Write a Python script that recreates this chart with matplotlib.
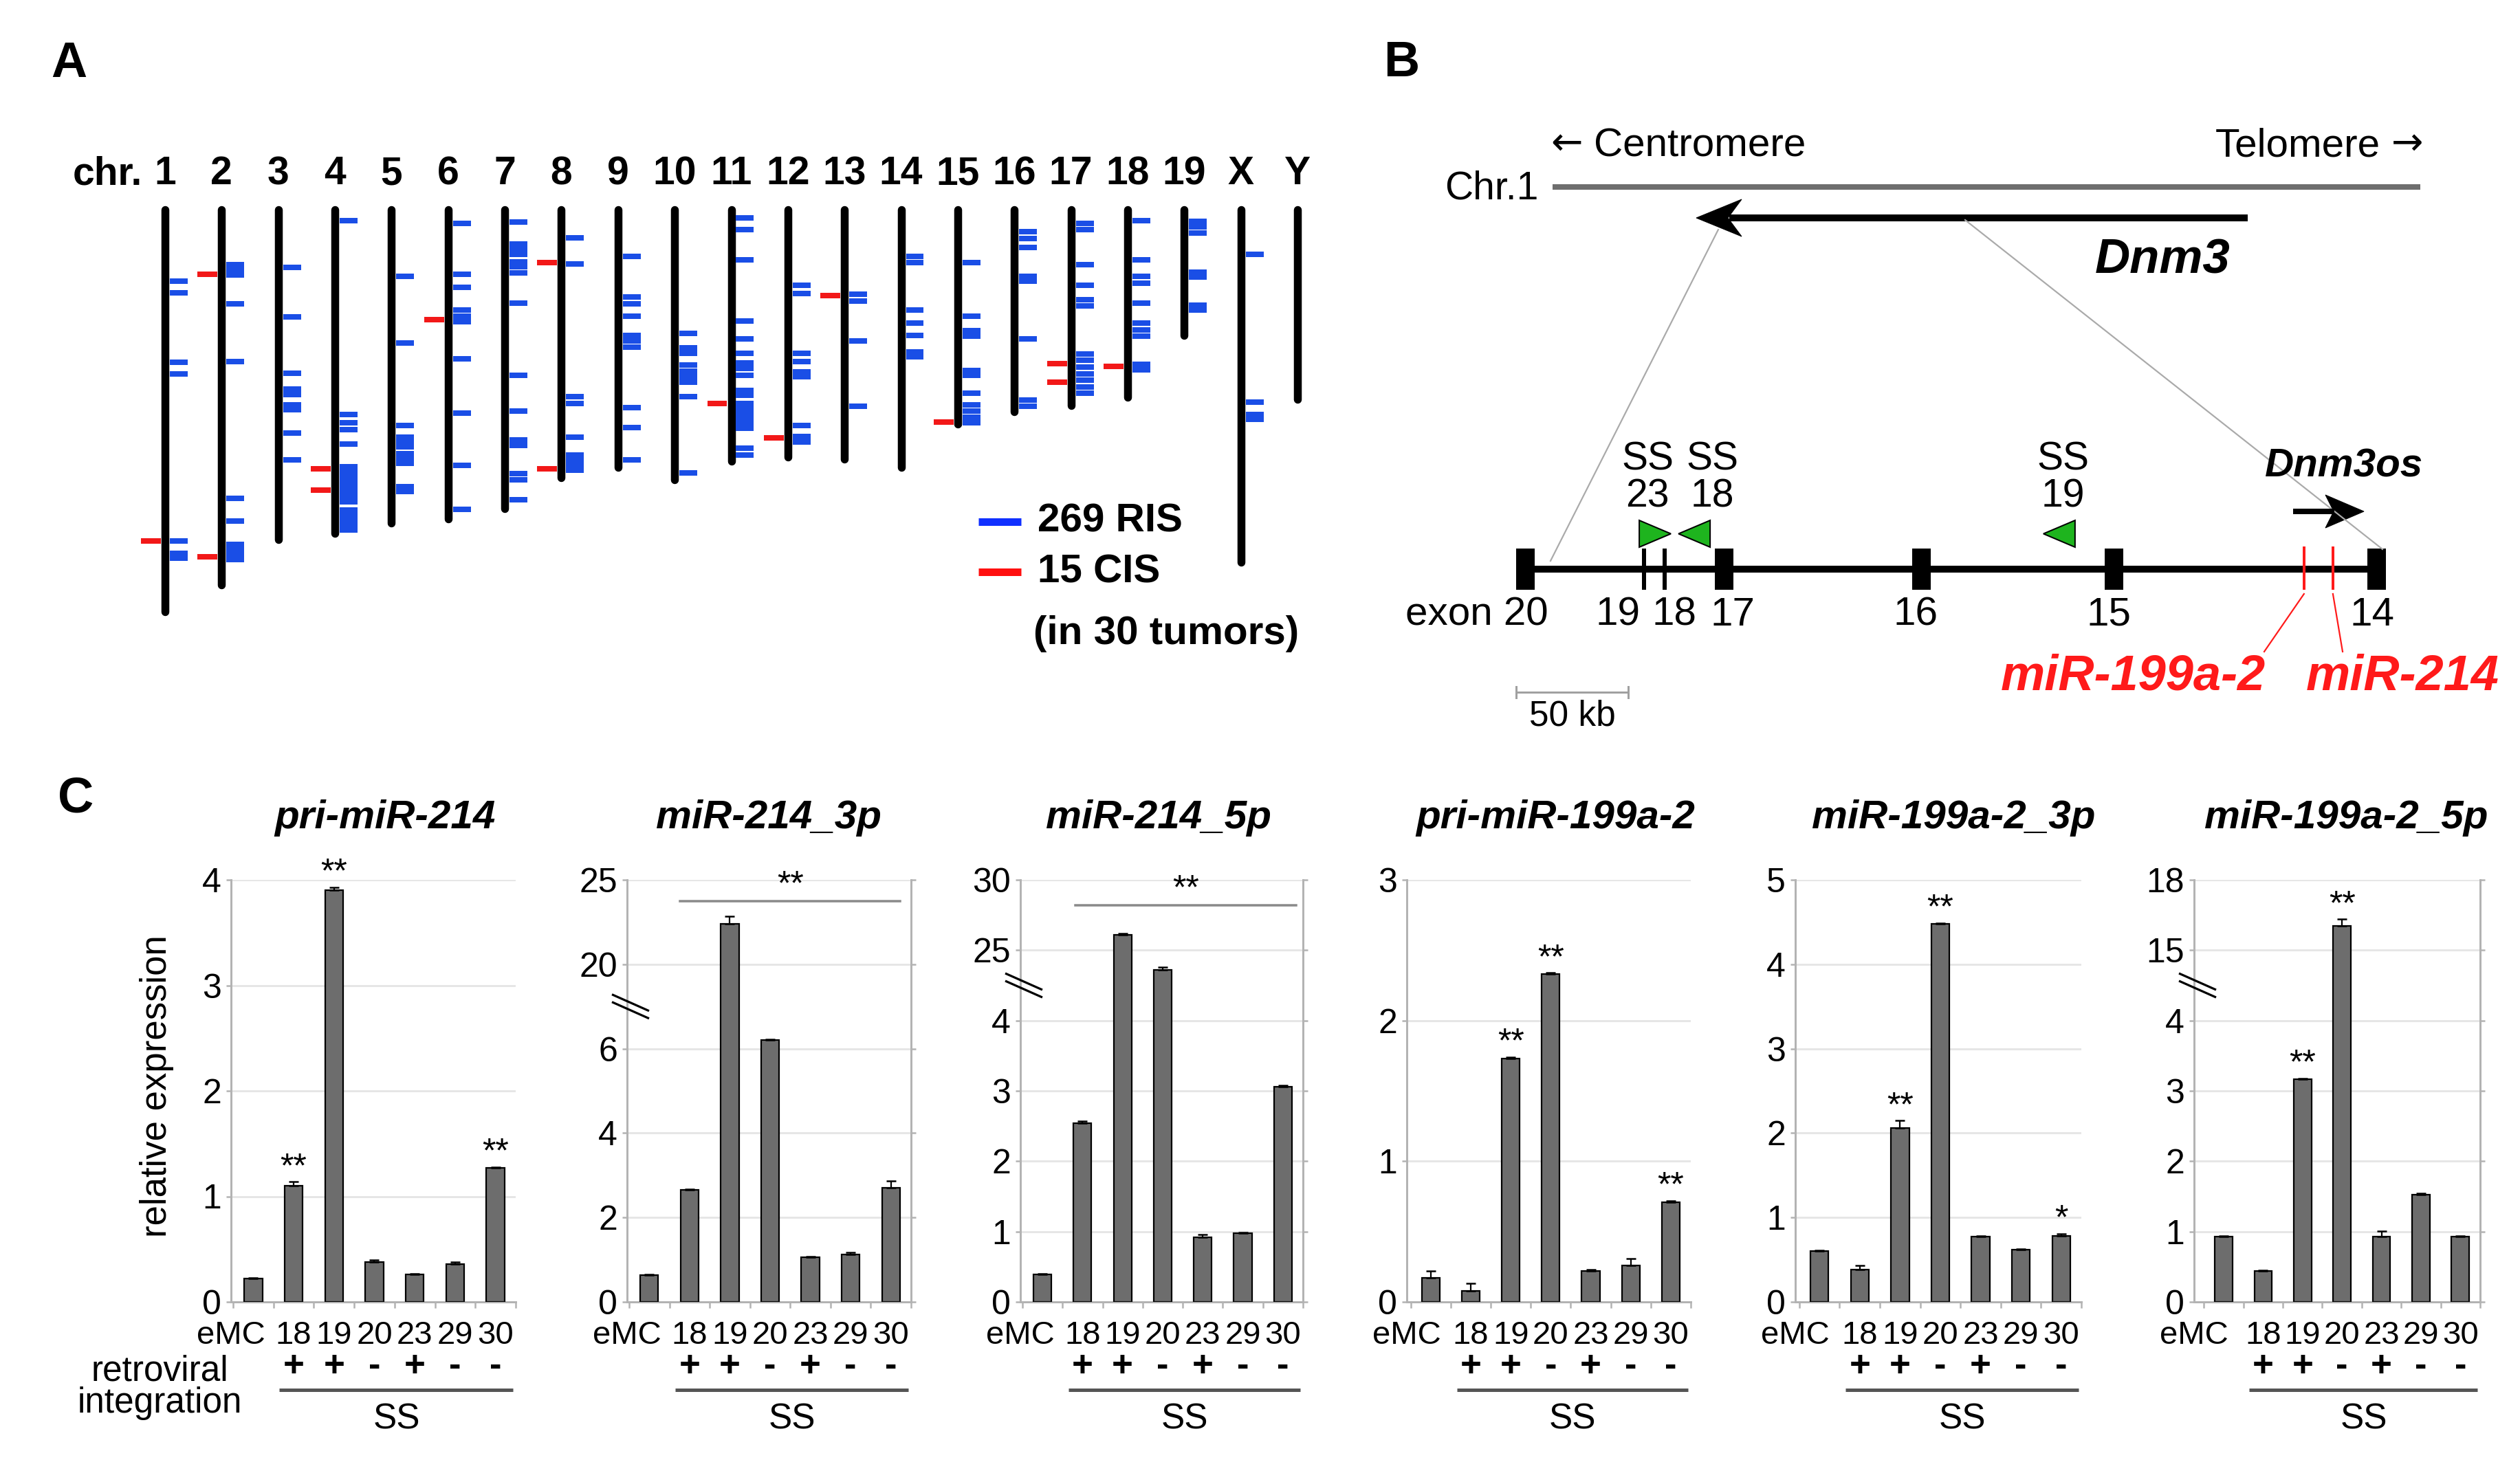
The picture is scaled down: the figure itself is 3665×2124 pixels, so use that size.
import numpy as np
import matplotlib
matplotlib.use('Agg')
import matplotlib.pyplot as plt
import matplotlib.transforms as mtransforms
from matplotlib.patches import Rectangle, Polygon

plt.rcParams['font.family'] = ['Liberation Sans', 'DejaVu Sans']

W, H = 3665, 2124
DPI = 100


def pt(px):
    return px * 72.0 / DPI


# ---------------- Panel A data (Mb from top of chromosome) ----------------
chrom_names = ['1', '2', '3', '4', '5', '6', '7', '8', '9', '10', '11', '12', '13',
               '14', '15', '16', '17', '18', '19', 'X', 'Y']
chrom_len_mb = [195, 182, 160, 157, 152, 150, 145, 130, 125, 131, 122, 120, 121,
                125, 104, 98, 95, 91, 61, 171, 92]
ris_mb = [
    [34.6, 40.2, 74.0, 79.5, 160.7, 166.7, 169.1],
    [26.5, 28.9, 31.8, 45.6, 73.5, 140.1, 151.1, 162.2, 164.8, 167.4, 169.6],
    [28.1, 52.0, 79.2, 87.1, 89.5, 94.8, 96.9, 108.2, 121.2],
    [5.2, 99.2, 103.4, 106.6, 113.7, 124.7, 127.1, 129.6, 132.0, 134.4, 136.8, 139.3,
     141.7, 145.7, 148.1, 150.6, 153.0, 155.4],
    [32.3, 64.6, 104.5, 110.2, 112.6, 115.0, 118.3, 120.7, 123.1, 134.4, 136.8],
    [6.8, 31.3, 37.5, 48.8, 51.5, 54.4, 72.4, 98.5, 123.9, 145.4],
    [6.0, 16.5, 19.4, 21.8, 25.4, 27.8, 30.5, 45.2, 80.3, 97.6, 111.8, 114.2, 127.9,
     130.9, 140.5],
    [13.7, 26.2, 90.8, 94.0, 110.2, 119.1, 121.5, 123.9, 126.3],
    [22.6, 42.3, 45.6, 51.5, 60.9, 63.7, 66.6, 96.0, 105.7, 121.2],
    [60.1, 66.9, 69.8, 75.4, 78.2, 81.1, 83.8, 90.8, 127.6],
    [4.0, 9.7, 24.2, 54.0, 62.5, 69.8, 74.3, 77.1, 80.3, 87.6, 90.0, 94.0, 96.4, 98.9,
     101.3, 103.7, 106.1, 115.8, 119.1],
    [36.7, 40.7, 69.5, 73.8, 78.7, 81.1, 104.5, 109.9, 112.6],
    [41.0, 44.3, 63.7, 95.3],
    [22.6, 25.8, 48.8, 54.9, 60.9, 69.0, 71.4],
    [25.8, 51.7, 58.8, 61.4, 77.9, 80.3, 88.9, 94.8, 97.6, 100.5, 103.4],
    [10.8, 14.1, 18.4, 32.3, 34.6, 62.5, 92.4, 95.3],
    [6.5, 9.7, 26.5, 36.7, 43.6, 46.8, 70.1, 73.0, 76.3, 79.5, 82.7, 85.9, 88.9],
    [5.2, 24.2, 32.3, 35.5, 45.2, 54.9, 58.2, 61.4, 75.0, 77.5],
    [5.5, 8.4, 11.3, 30.2, 32.6, 46.4, 48.5],
    [21.6, 93.2, 99.2, 101.8],
    [],
]
cis_mb = [
    [160.7], [31.3, 168.3], [], [125.5, 136.0], [], [53.2], [], [25.8, 125.5], [],
    [], [94.0], [110.7], [41.5], [], [102.9], [], [74.6, 83.5], [75.9], [], [], [],
]
legend_ris = '269 RIS'
legend_cis = '15 CIS'
legend_note = '(in 30 tumors)'

# ---------------- Panel B data (kb from exon 20) ----------------
exon_names = ['20', '19', '18', '17', '16', '15', '14']
exon_kb = [0.0, 53.1, 62.3, 88.7, 176.7, 262.6, 379.8]
exon_big = [True, False, False, True, True, True, True]
exon_label_kb = [None, 41.4, 66.6, 92.6, 174.2, 260.4, 377.9]
mir_names = ['miR-199a-2', 'miR-214']
mir_kb = [347.5, 360.4]
ss_names = ['23', '18', '19']
ss_kb = [58.0, 75.5, 238.3]
ss_dir = [1, -1, -1]
ss_label_kb = [54.6, 83.7, 239.9]
scale_kb = 50

# ---------------- Panel C data ----------------
c_titles = ['pri-miR-214', 'miR-214_3p', 'miR-214_5p', 'pri-miR-199a-2',
            'miR-199a-2_3p', 'miR-199a-2_5p']
c_samples = ['eMC', '18', '19', '20', '23', '29', '30']
c_integration = ['', '+', '+', '-', '+', '-', '-']
v_pri214 = [0.22, 1.10, 3.90, 0.38, 0.26, 0.36, 1.27]
e_pri214 = [0.01, 0.04, 0.03, 0.02, 0.01, 0.02, 0.01]
v_214_3p = [0.63, 2.65, 22.4, 6.2, 1.06, 1.12, 2.70]
e_214_3p = [0.02, 0.02, 0.45, 0.02, 0.02, 0.05, 0.16]
v_214_5p = [0.39, 2.54, 26.1, 23.6, 0.92, 0.98, 3.06]
e_214_5p = [0.01, 0.03, 0.10, 0.20, 0.04, 0.01, 0.02]
v_pri199 = [0.17, 0.08, 1.73, 2.33, 0.22, 0.26, 0.71]
e_pri199 = [0.05, 0.05, 0.01, 0.01, 0.01, 0.05, 0.01]
v_199_3p = [0.60, 0.38, 2.06, 4.48, 0.77, 0.62, 0.78]
e_199_3p = [0.01, 0.05, 0.09, 0.01, 0.01, 0.01, 0.03]
v_199_5p = [0.93, 0.44, 3.17, 16.03, 0.93, 1.52, 0.93]
e_199_5p = [0.01, 0.01, 0.01, 0.30, 0.08, 0.02, 0.01]
c_values = [v_pri214, v_214_3p, v_214_5p, v_pri199, v_199_3p, v_199_5p]
c_errors = [e_pri214, e_214_3p, e_214_5p, e_pri199, e_199_3p, e_199_5p]
c_yticks = [[0, 1, 2, 3, 4], [0, 2, 4, 6, 20, 25], [0, 1, 2, 3, 4, 25, 30],
            [0, 1, 2, 3], [0, 1, 2, 3, 4, 5], [0, 1, 2, 3, 4, 15, 18]]
c_broken = [False, True, True, False, False, True]
c_stars = [{1: '**', 2: '**', 6: '**'}, {}, {}, {2: '**', 3: '**', 6: '**'},
           {2: '**', 3: '**', 6: '*'}, {2: '**', 3: '**'}]
c_bracket = [None, (0.77, 6.23, 23.75), (0.83, 6.33, 28.2), None, None, None]

# ---------------- figure ----------------
fig = plt.figure(figsize=(W / DPI, H / DPI), dpi=DPI)
axO = fig.add_axes([0, 0, 1, 1])
axO.set_xlim(0, W)
axO.set_ylim(H, 0)
axO.axis('off')

for lab, (x, y) in zip(['A', 'B', 'C'], [(100, 93), (2038, 92), (110, 1163)]):
    axO.text(x, y, lab, fontsize=52, fontweight='bold', ha='center', va='center')

# ---------------- Panel A ----------------
CH_X0, CH_DX = 240.0, 82.35
MB_Y0, MB_DY = 305.0, 3.0
axA = fig.add_axes([(CH_X0 - 0.5 * CH_DX) / W, 1 - (MB_Y0 + 200 * MB_DY) / H,
                    21 * CH_DX / W, 210 * MB_DY / H])
axA.set_xlim(-0.5, 20.5)
axA.set_ylim(200, -10)
axA.axis('off')
axA.patch.set_alpha(0)

blue = '#1a4ee6'
red = '#f21818'
tick_lw = pt(8)
for i, (L, r, c) in enumerate(zip(chrom_len_mb, ris_mb, cis_mb)):
    axA.plot([i, i], [0, L], color='black', lw=pt(11.5), solid_capstyle='round', zorder=2)
    if r:
        axA.hlines(r, i + 0.085, i + 0.40, colors=blue, lw=tick_lw, zorder=3)
    if c:
        axA.hlines(c, i - 0.425, i - 0.073, colors=red, lw=tick_lw, zorder=3)
    axA.text(i, -17.3, chrom_names[i], fontsize=41, fontweight='bold',
             ha='center', va='center')
axA.text(-0.40, -17.3, 'chr.', fontsize=41, fontweight='bold', ha='right', va='center')

ly1 = (759 - MB_Y0) / MB_DY
ly2 = (832 - MB_Y0) / MB_DY
lx0, lx1 = (1423 - CH_X0) / CH_DX, (1485 - CH_X0) / CH_DX
ltx = (1509 - CH_X0) / CH_DX
axA.plot([lx0, lx1], [ly1, ly1], color='#1030ff', lw=pt(11), solid_capstyle='butt')
axA.plot([lx0, lx1], [ly2, ly2], color='#ff1010', lw=pt(11), solid_capstyle='butt')
axA.text(ltx, ly1, legend_ris, fontsize=42, fontweight='bold', ha='left', va='center')
axA.text(ltx, ly2, legend_cis, fontsize=42, fontweight='bold', ha='left', va='center')
axA.text((1503 - CH_X0) / CH_DX, (922 - MB_Y0) / MB_DY, legend_note, fontsize=42,
         fontweight='bold', ha='left', va='center')

# ---------------- Panel B ----------------
X0B, KBPX = 2218.0, 3.26


def kb(px):
    return (px - X0B) / KBPX


axB = fig.add_axes([2000 / W, 1 - 1080 / H, 1665 / W, 1080 / H])
axB.set_xlim(kb(2000), kb(3665))
axB.set_ylim(1080, 0)
axB.axis('off')
axB.patch.set_alpha(0)

axB.plot([kb(2258), kb(3520)], [272, 272], color='#6e6e6e', lw=pt(8), solid_capstyle='butt')
axB.text(kb(2238), 274, 'Chr.1', fontsize=41, ha='right', va='center')
axB.text(kb(2255), 210, '\u2190', fontsize=40, family='DejaVu Sans', ha='left', va='center')
axB.text(kb(2318), 213, 'Centromere', fontsize=42, ha='left', va='center')
axB.text(kb(3462), 213, 'Telomere', fontsize=42, ha='right', va='center')
axB.text(kb(3524), 210, '\u2192', fontsize=40, family='DejaVu Sans', ha='right', va='center')

# Dnm3 arrow
axB.plot([kb(3269), kb(2515)], [317, 317], color='black', lw=pt(10), solid_capstyle='butt')
axB.add_patch(Polygon([(kb(2467), 317), (kb(2533), 290), (kb(2513), 317), (kb(2533), 344)],
                      closed=True, facecolor='black', edgecolor='black', lw=pt(1)))
axB.text(kb(3145), 380, 'Dnm3', fontsize=51, fontweight='bold', fontstyle='italic',
         ha='center', va='center')
# zoom connectors
axB.plot([kb(2499), kb(2255)], [334, 816], color='#aaaaaa', lw=pt(2.2))
axB.plot([kb(2858), kb(3465)], [320, 799], color='#aaaaaa', lw=pt(2.2))

# gene track
GY = 828
axB.plot([exon_kb[0], exon_kb[-1]], [GY, GY], color='black', lw=pt(10), solid_capstyle='butt')
for ek, big in zip(exon_kb, exon_big):
    w = 27 / KBPX if big else 5.5 / KBPX
    axB.add_patch(Rectangle((ek - w / 2, GY - 30), w, 60, facecolor='black', edgecolor='none'))
for name, lk in zip(exon_names, exon_label_kb):
    if lk is None:
        axB.text(kb(2252), 895, 'exon ' + name, fontsize=42, ha='right', va='center')
    else:
        axB.text(lk, 895, name, fontsize=42, ha='center', va='center')

# miRNAs
mir_label_px = [(3102, 3293), (3494, 3407)]
for mk, name, (tx, cx) in zip(mir_kb, mir_names, mir_label_px):
    axB.plot([mk, mk], [GY - 33, GY + 30], color='#ff1a1a', lw=pt(4), solid_capstyle='butt')
    axB.plot([mk, kb(cx)], [GY + 36, 948], color='#ff1a1a', lw=pt(2.2))
    axB.text(kb(tx), 985, name, fontsize=52, fontweight='bold', fontstyle='italic',
             color='#ff1a1a', ha='center', va='center')

# insertion sites
tw = 46 / KBPX
for name, sk, d, lk in zip(ss_names, ss_kb, ss_dir, ss_label_kb):
    base = sk - d * tw / 2
    tip = sk + d * tw / 2
    axB.add_patch(Polygon([(base, 757), (base, 796), (tip, 776.5)], closed=True,
                          facecolor='#1eb41e', edgecolor='black', lw=pt(2), zorder=4))
    axB.text(lk, 668, 'SS', fontsize=41, ha='center', va='center')
    axB.text(lk, 723, name, fontsize=41, ha='center', va='center')

# Dnm3os
axB.text(kb(3409), 678, 'Dnm3os', fontsize=42, fontweight='bold', fontstyle='italic',
         ha='center', va='center')
axB.plot([kb(3335), kb(3395)], [744, 744], color='black', lw=pt(8), solid_capstyle='butt')
axB.add_patch(Polygon([(kb(3438), 744), (kb(3382), 720), (kb(3394), 744), (kb(3382), 768)],
                      closed=True, facecolor='black', edgecolor='black', lw=pt(1)))

# scale bar
sb0 = kb(2205)
axB.plot([sb0, sb0 + scale_kb], [1007, 1007], color='#a0a0a0', lw=pt(3))
for sx in (sb0, sb0 + scale_kb):
    axB.plot([sx, sx], [999, 1015], color='#a0a0a0', lw=pt(3))
axB.text(sb0 + scale_kb / 2, 1042, '%d kb' % scale_kb, fontsize=37, ha='center', va='center')

# ---------------- Panel C ----------------
C_TOP, C_BOT = 1280, 1894
c_left = [336, 912, 1484, 2046, 2611, 3191]
c_right = [750, 1325, 1895, 2459, 3027, 3607]
title_x = [560, 1118, 1685, 2262, 2841, 3412]
emc_pos = [-0.55, -0.55, -0.55, -0.6, -0.6, -0.75]
AX_GRAY = '#b3b3b3'


def broken_funcs(ticks):
    t = np.asarray(ticks, float)
    d = np.diff(t)
    j = int(np.argmax(d))          # last index of lower segment
    s_lo = d[0]
    s_hi = d[-1]
    n_lo = j + 1
    lo_end = t[j] + s_lo / 2
    hi_start = t[j + 1] - s_hi / 2
    brk = n_lo - 0.5
    xp = np.array([t[0] - 1000 * s_lo, lo_end, hi_start, t[-1] + 1000 * s_hi])
    fp = np.array([-1000.0, brk, brk + 1e-6, len(t) - 1 + 1000.0])

    def fwd(v):
        return np.interp(v, xp, fp)

    def inv(u):
        return np.interp(u, fp, xp)
    return fwd, inv, brk / (len(t) - 1)


sign_y = 1 - 1988 / H
line_y = 1 - 2022 / H
ss_y = 1 - 2065 / H

for k in range(6):
    l, r = c_left[k], c_right[k]
    ax = fig.add_axes([l / W, 1 - C_BOT / H, (r - l) / W, (C_BOT - C_TOP) / H])
    ax.patch.set_alpha(0)
    wpx, hpx = r - l, C_BOT - C_TOP
    vals = np.array(c_values[k])
    errs = np.array(c_errors[k])
    x = np.arange(len(vals))
    ticks = c_yticks[k]
    brk_frac = None
    if c_broken[k]:
        f, finv, brk_frac = broken_funcs(ticks)
        ax.set_yscale('function', functions=(f, finv))
    ax.set_ylim(0, ticks[-1])
    ax.set_xlim(-0.5, len(vals) - 0.5)
    ax.set_yticks(ticks)
    ax.set_yticklabels([str(t) for t in ticks])
    ax.yaxis.set_minor_locator(matplotlib.ticker.NullLocator())
    ax.grid(axis='y', color='#e6e6e6', lw=pt(3), zorder=0)
    ax.set_axisbelow(True)
    ax.bar(x, vals, width=0.45, color='#6d6d6d', edgecolor='black', lw=pt(2.2), zorder=3)
    ax.errorbar(x, vals, yerr=[np.zeros_like(errs), errs], fmt='none', ecolor='black',
                elinewidth=pt(2.2), capsize=pt(7), capthick=pt(2.5), zorder=4)

    for side in ('top', 'right'):
        ax.spines[side].set_visible(False)
    for side in ('left', 'bottom'):
        ax.spines[side].set_color(AX_GRAY)
        ax.spines[side].set_linewidth(pt(3))
    if c_broken[k]:
        ax.spines['right'].set_visible(True)
        ax.spines['right'].set_color(AX_GRAY)
        ax.spines['right'].set_linewidth(pt(3))
        ax.tick_params(axis='y', right=True)

    ax.tick_params(axis='y', which='major', length=pt(7), width=pt(2.5), color=AX_GRAY,
                   pad=pt(7), labelsize=36, direction='out')
    pos = [emc_pos[k]] + list(x[1:])
    ax.set_xticks(pos)
    ax.set_xticklabels(c_samples)
    ax.set_xticks(np.arange(-0.5, len(vals), 1.0), minor=True)
    ax.tick_params(axis='x', which='major', length=0, pad=pt(27), labelsize=34)
    ax.tick_params(axis='x', which='minor', length=pt(9), width=pt(2.5), color=AX_GRAY,
                   direction='out')

    # break marks
    if brk_frac is not None:
        dx, dy, g, off = 27 / wpx, 12 / hpx, 5.5 / hpx, 5 / wpx
        for s in (g, -g):
            ax.plot([off - dx, off + dx], [brk_frac + dy + s, brk_frac - dy + s],
                    transform=ax.transAxes, color='black', lw=pt(3.2), clip_on=False,
                    zorder=6, solid_capstyle='butt')

    # significance
    for i, s in c_stars[k].items():
        ax.annotate(s, xy=(i, vals[i] + errs[i]), xytext=(0, pt(20)),
                    textcoords='offset points', ha='center', va='center', fontsize=36,
                    annotation_clip=False)
    if c_bracket[k] is not None:
        b0, b1, by = c_bracket[k]
        ax.plot([b0, b1], [by, by], color='#8a8a8a', lw=pt(3.5), clip_on=False, zorder=5)
        ax.annotate('**', xy=((b0 + b1) / 2, by), xytext=(0, pt(22)),
                    textcoords='offset points', ha='center', va='center', fontsize=36,
                    annotation_clip=False)

    # title
    axO.text(title_x[k], 1190, c_titles[k], fontsize=42, fontweight='bold',
             fontstyle='italic', ha='center', va='center')

    # integration row
    tr = mtransforms.blended_transform_factory(ax.transData, fig.transFigure)
    for i, sgn in enumerate(c_integration):
        if sgn:
            ax.text(i, sign_y, sgn, transform=tr, fontsize=38, fontweight='bold',
                    ha='center', va='center')
    ax.plot([0.65, 6.43], [line_y, line_y], transform=tr, color='#555555', lw=pt(5),
            clip_on=False, solid_capstyle='butt')
    ax.text(3.55, ss_y, 'SS', transform=tr, fontsize=37, ha='center', va='center')

axO.text(228, 1580, 'relative expression', rotation=90, fontsize=38, ha='center',
         va='center')
axO.text(232, 1995, 'retroviral', fontsize=37, ha='center', va='center')
axO.text(232, 2042, 'integration', fontsize=37, ha='center', va='center')

fig.savefig('out.png', dpi=DPI)
